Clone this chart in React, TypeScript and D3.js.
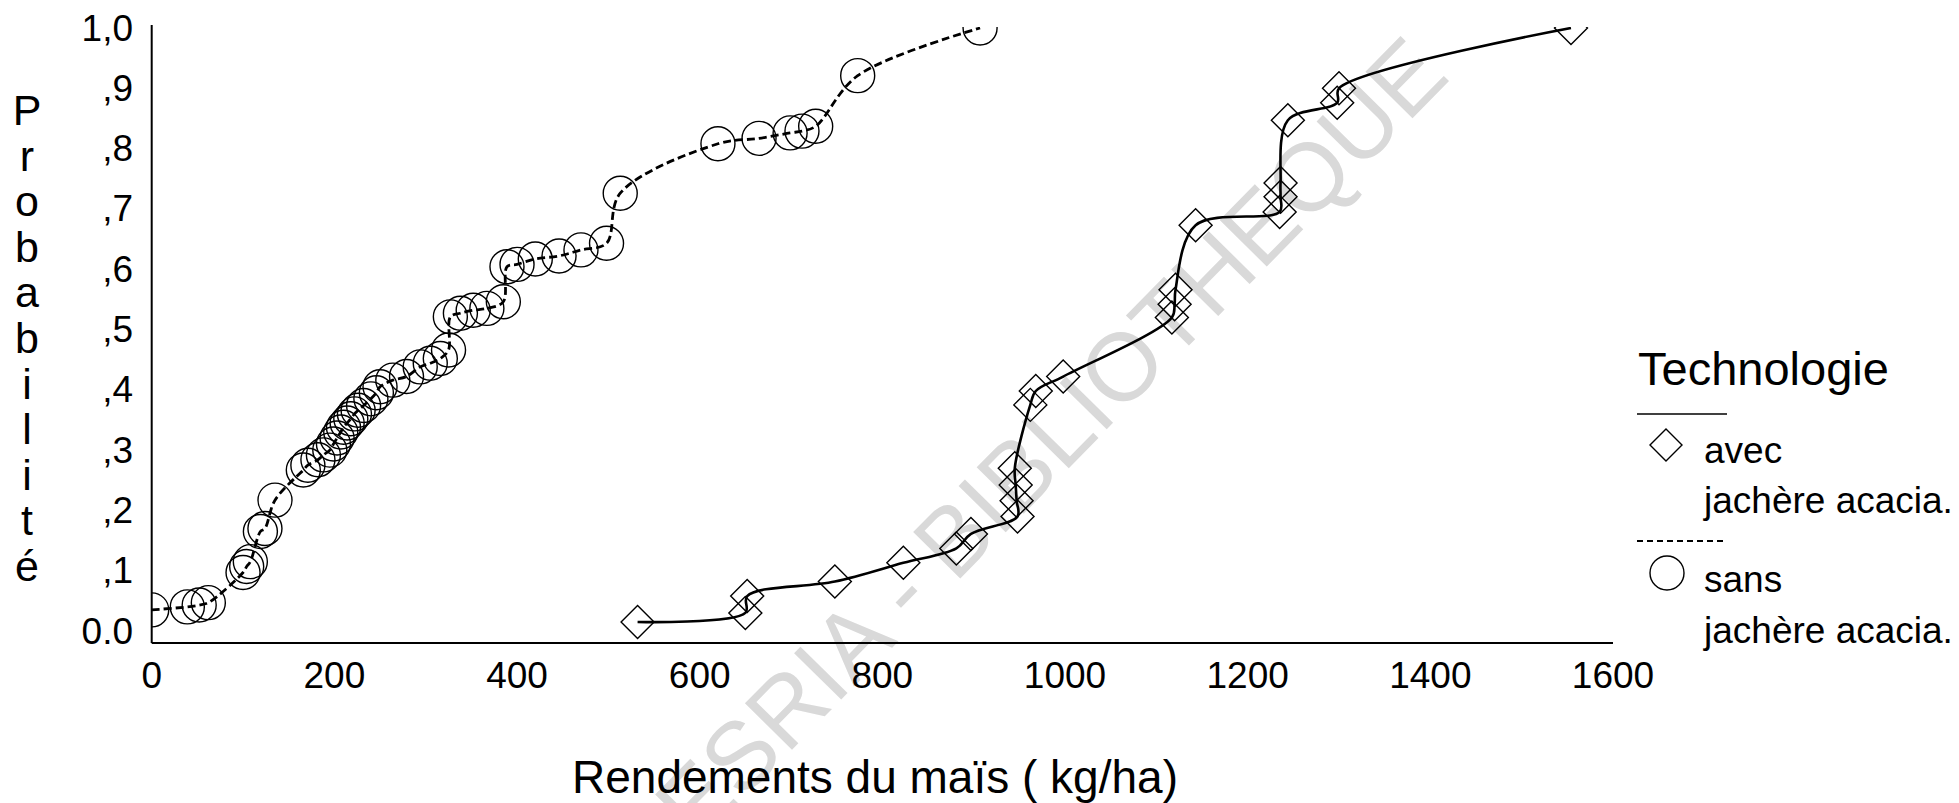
import { useEffect, useRef } from 'react';
import * as d3 from 'd3';

// sans jachère acacia (circles, dashed line)
const sansYield = [0, 39, 52, 62, 100, 104, 108, 119, 124, 135, 166, 171, 182, 188, 195, 199, 203, 207, 210, 214, 218, 222, 226, 232, 240, 246, 250, 264, 279, 294, 305, 316, 325, 327, 338, 352, 367, 385, 389, 400, 420, 446, 470, 498, 513, 620, 665, 699, 712, 727, 773, 907];
const sansProb = [0.035, 0.04, 0.043, 0.047, 0.097, 0.107, 0.115, 0.165, 0.17, 0.217, 0.267, 0.275, 0.284, 0.292, 0.3, 0.31, 0.32, 0.33, 0.338, 0.345, 0.352, 0.36, 0.366, 0.374, 0.385, 0.395, 0.405, 0.416, 0.422, 0.438, 0.444, 0.452, 0.466, 0.521, 0.527, 0.532, 0.535, 0.546, 0.604, 0.608, 0.617, 0.622, 0.632, 0.643, 0.726, 0.808, 0.817, 0.826, 0.829, 0.837, 0.921, 1.0];

// avec jachère acacia (diamonds, solid line)
const avecYield = [532, 650, 652, 748, 823, 881, 897, 948, 947, 946, 945, 962, 968, 998, 1117, 1120, 1121, 1143, 1235, 1236, 1236, 1244, 1298, 1300, 1554];
const avecProb = [0.015, 0.03, 0.058, 0.082, 0.113, 0.137, 0.161, 0.19, 0.216, 0.242, 0.27, 0.375, 0.398, 0.422, 0.52, 0.542, 0.566, 0.673, 0.695, 0.72, 0.743, 0.847, 0.876, 0.9, 1.0];

const xTicks = [0, 200, 400, 600, 800, 1000, 1200, 1400, 1600];
const yTicks = [1, 0.9, 0.8, 0.7, 0.6, 0.5, 0.4, 0.3, 0.2, 0.1, 0];
const yTickLabels = ['1,0', ',9', ',8', ',7', ',6', ',5', ',4', ',3', ',2', ',1', '0.0'];
const yTitle = 'Probabilité';

const FONT = '"Liberation Sans", Arial, sans-serif';

export default function App(): React.JSX.Element {
  const svgRef = useRef<SVGSVGElement>(null);

  useEffect(() => {
    if (!svgRef.current) return;
    const svg = d3.select(svgRef.current);
    svg.selectAll('*').remove();

    const x = d3.scaleLinear().domain([0, 1600]).range([151.7, 1613]);
    const y = d3.scaleLinear().domain([0, 1]).range([631, 28]);
    const axisY = 643;

    svg.append('rect').attr('width', 1959).attr('height', 803).attr('fill', '#fff');

    // watermark from the scan
    svg.append('text')
      .attr('transform', 'translate(1452,78) rotate(-45.5)')
      .attr('text-anchor', 'end')
      .attr('font-family', FONT)
      .attr('font-size', 96)
      .attr('fill', '#d9d9d9')
      .text('CODESRIA - BIBLIOTHEQUE');

    svg.append('defs').append('clipPath').attr('id', 'plot-clip')
      .append('rect')
      .attr('x', x(0)).attr('y', 27)
      .attr('width', x(1600) - x(0)).attr('height', axisY - 27);

    // axes
    svg.append('line')
      .attr('x1', x(0)).attr('x2', x(0)).attr('y1', 25).attr('y2', axisY)
      .attr('stroke', '#000').attr('stroke-width', 2);
    svg.append('line')
      .attr('x1', x(0)).attr('x2', x(1600)).attr('y1', axisY).attr('y2', axisY)
      .attr('stroke', '#000').attr('stroke-width', 2);

    svg.append('g').selectAll('text')
      .data(xTicks)
      .join('text')
      .attr('x', d => x(d))
      .attr('y', 675)
      .attr('text-anchor', 'middle')
      .attr('dominant-baseline', 'central')
      .attr('font-family', FONT)
      .attr('font-size', 37)
      .text(d => String(d));

    svg.append('g').selectAll('text')
      .data(yTicks)
      .join('text')
      .attr('x', 133)
      .attr('y', d => y(d))
      .attr('text-anchor', 'end')
      .attr('dominant-baseline', 'central')
      .attr('font-family', FONT)
      .attr('font-size', 37)
      .text((_d, i) => yTickLabels[i]);

    // stacked y title
    svg.append('g').selectAll('text')
      .data(yTitle.split(''))
      .join('text')
      .attr('x', 27)
      .attr('y', (_d, i) => 110 + i * 45.6)
      .attr('text-anchor', 'middle')
      .attr('dominant-baseline', 'central')
      .attr('font-family', FONT)
      .attr('font-size', 43)
      .text(d => d);

    svg.append('text')
      .attr('x', 572)
      .attr('y', 793)
      .attr('font-family', FONT)
      .attr('font-size', 46)
      .text('Rendements du maïs ( kg/ha)');

    const plot = svg.append('g').attr('clip-path', 'url(#plot-clip)');

    const line = d3.line<[number, number]>()
      .x(d => x(d[0]))
      .y(d => y(d[1]))
      .curve(d3.curveCatmullRom.alpha(0.5));

    const sansPts: [number, number][] = sansYield.map((v, i) => [v, sansProb[i]]);
    const avecPts: [number, number][] = avecYield.map((v, i) => [v, avecProb[i]]);

    plot.append('path')
      .attr('d', line(sansPts) ?? '')
      .attr('fill', 'none')
      .attr('stroke', '#000')
      .attr('stroke-width', 2.8)
      .attr('stroke-dasharray', '8 4');

    plot.append('path')
      .attr('d', line(avecPts) ?? '')
      .attr('fill', 'none')
      .attr('stroke', '#000')
      .attr('stroke-width', 2.6);

    plot.append('g').selectAll('circle')
      .data(sansPts)
      .join('circle')
      .attr('cx', d => x(d[0]))
      .attr('cy', d => y(d[1]))
      .attr('r', 17)
      .attr('fill', 'none')
      .attr('stroke', '#000')
      .attr('stroke-width', 1.4);

    const diamond = (cx: number, cy: number, h: number): string =>
      `M${cx},${cy - h}L${cx + h},${cy}L${cx},${cy + h}L${cx - h},${cy}Z`;

    plot.append('g').selectAll('path')
      .data(avecPts)
      .join('path')
      .attr('d', d => diamond(x(d[0]), y(d[1]), 16.5))
      .attr('fill', 'none')
      .attr('stroke', '#000')
      .attr('stroke-width', 1.4);

    // legend
    const lg = svg.append('g').attr('font-family', FONT);
    lg.append('text').attr('x', 1638).attr('y', 385).attr('font-size', 47).text('Technologie');
    lg.append('line').attr('x1', 1637).attr('x2', 1727).attr('y1', 414).attr('y2', 414)
      .attr('stroke', '#000').attr('stroke-width', 1.6);
    lg.append('path').attr('d', diamond(1666, 445, 16)).attr('fill', 'none')
      .attr('stroke', '#000').attr('stroke-width', 1.4);
    lg.append('text').attr('x', 1704).attr('y', 463).attr('font-size', 37).text('avec');
    lg.append('text').attr('x', 1704).attr('y', 513).attr('font-size', 37).text('jachère acacia.');
    lg.append('line').attr('x1', 1637).attr('x2', 1727).attr('y1', 541).attr('y2', 541)
      .attr('stroke', '#000').attr('stroke-width', 1.8).attr('stroke-dasharray', '6 4');
    lg.append('circle').attr('cx', 1667).attr('cy', 573).attr('r', 17).attr('fill', 'none')
      .attr('stroke', '#000').attr('stroke-width', 1.4);
    lg.append('text').attr('x', 1704).attr('y', 592).attr('font-size', 37).text('sans');
    lg.append('text').attr('x', 1704).attr('y', 643).attr('font-size', 37).text('jachère acacia.');
  }, []);

  return (
    <svg
      ref={svgRef}
      width={1959}
      height={803}
      style={{ position: 'absolute', left: 0, top: 0, display: 'block' }}
    />
  );
}
